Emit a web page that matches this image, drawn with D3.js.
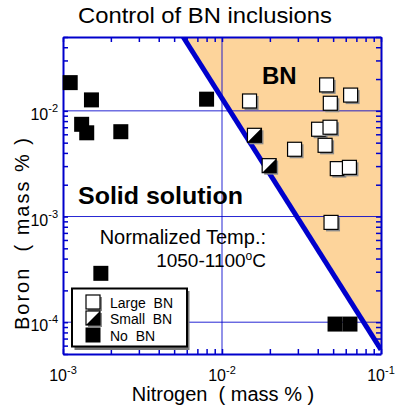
<!DOCTYPE html>
<html>
<head>
<meta charset="utf-8">
<script src="https://cdn.jsdelivr.net/npm/d3@7/dist/d3.min.js"></script>
<style>
  html, body { margin: 0; padding: 0; background: #fff; }
  svg { display: block; font-family: "Liberation Sans", Arial, Helvetica, sans-serif; }
  .pre { white-space: pre; }
</style>
</head>
<body>
<svg id="chart" width="399" height="406"></svg>
<script>
// Nitrogen (mass %) vs Boron (mass %) with the BN precipitation boundary
const noBN_N    = [0.00111, 0.00151, 0.00131, 0.00141, 0.00231, 0.0080, 0.00173, 0.0514, 0.0638];
const noBN_B    = [0.0185, 0.0127, 0.00746, 0.0062, 0.00635, 0.0129, 0.00029, 0.000096, 0.000096];
const largeBN_N = [0.0149, 0.0455, 0.0644, 0.048, 0.0405, 0.0478, 0.0286, 0.0445, 0.0531, 0.0633, 0.0485];
const largeBN_B = [0.0124, 0.0176, 0.0141, 0.0118, 0.0067, 0.0070, 0.00433, 0.00472, 0.00284, 0.00292, 0.00088];
const smallBN_N = [0.0160, 0.0198];
const smallBN_B = [0.00587, 0.00303];

// solubility boundary (two end points, N then B)
const boundaryN = [0.0057, 0.1];
const boundaryB = [0.05, 0.000055];

const xTicks = [0.001, 0.01, 0.1];
const xTickExp = ["-3", "-2", "-1"];
const yTicks = [0.01, 0.001, 0.0001];
const yTickExp = ["-2", "-3", "-4"];

const legendLabels = ["Large  BN", "Small  BN", "No  BN"];

const blue = "#0000cc";
const orange = "#fdd49b";

const L = 63, R = 381, T = 37, B = 354;
const svg = d3.select("#chart");

const x = d3.scaleLog().domain([1e-3, 1e-1]).range([L, R]);
const y = d3.scaleLog().domain([5e-5, 5e-2]).range([B, T]);

// minor tick values
const minorX = [], minorY = [];
[-3, -2].forEach(e => { for (let m = 1; m <= 9; m++) minorX.push(m * Math.pow(10, e)); });
minorX.push(0.1);
[-5, -4, -3, -2].forEach(e => { for (let m = 1; m <= 9; m++) { const v = m * Math.pow(10, e); if (v >= 5e-5 && v <= 5e-2) minorY.push(v); } });

svg.append("defs").append("clipPath").attr("id", "plotclip")
  .append("rect").attr("x", L).attr("y", T).attr("width", R - L).attr("height", B - T);

const plot = svg.append("g").attr("clip-path", "url(#plotclip)");

// BN region
plot.append("path")
  .attr("d", d3.line()([
    [x(boundaryN[0]), y(boundaryB[0])],
    [x(0.1), y(0.05)],
    [x(boundaryN[1]), y(boundaryB[1])]
  ]) + "Z")
  .attr("fill", orange);

// decade grid lines
plot.selectAll(".gx").data([0.01]).enter().append("line")
  .attr("x1", d => x(d)).attr("x2", d => x(d)).attr("y1", T).attr("y2", B)
  .attr("stroke", blue).attr("stroke-width", 1).attr("opacity", 0.85);
plot.selectAll(".gy").data(yTicks).enter().append("line")
  .attr("x1", L).attr("x2", R).attr("y1", d => y(d)).attr("y2", d => y(d))
  .attr("stroke", blue).attr("stroke-width", 1).attr("opacity", 0.85);

// boundary line
plot.append("line")
  .attr("x1", x(boundaryN[0])).attr("y1", y(boundaryB[0]))
  .attr("x2", x(boundaryN[1])).attr("y2", y(boundaryB[1]))
  .attr("stroke", blue).attr("stroke-width", 5);

// axes with inward minor ticks
function styleAxis(g) {
  g.selectAll("path.domain").attr("stroke", blue).attr("stroke-width", 2);
  g.selectAll(".tick line").attr("stroke", blue).attr("stroke-width", 1.5);
  g.selectAll(".tick text").remove();
}
svg.append("g").attr("transform", `translate(0,${B})`)
  .call(d3.axisBottom(x).tickValues(minorX).tickSize(-5).tickSizeOuter(0).tickFormat("")).call(styleAxis);
svg.append("g").attr("transform", `translate(0,${T})`)
  .call(d3.axisTop(x).tickValues(minorX).tickSize(-5).tickSizeOuter(0).tickFormat("")).call(styleAxis);
svg.append("g").attr("transform", `translate(${L},0)`)
  .call(d3.axisLeft(y).tickValues(minorY).tickSize(-5).tickSizeOuter(0).tickFormat("")).call(styleAxis);
svg.append("g").attr("transform", `translate(${R},0)`)
  .call(d3.axisRight(y).tickValues(minorY).tickSize(-5).tickSizeOuter(0).tickFormat("")).call(styleAxis);

// markers
const S = 15, SO = 14;
svg.selectAll(".nobn").data(noBN_N.map((n, i) => [n, noBN_B[i]])).enter().append("rect")
  .attr("x", d => x(d[0]) - S / 2).attr("y", d => y(d[1]) - S / 2)
  .attr("width", S).attr("height", S).attr("fill", "#000");

function openSquare(g, cx, cy) {
  g.append("rect").attr("x", cx - SO / 2 + 2).attr("y", cy - SO / 2 + 2)
    .attr("width", SO).attr("height", SO).attr("fill", "#8a8a8a");
  g.append("rect").attr("x", cx - SO / 2).attr("y", cy - SO / 2)
    .attr("width", SO).attr("height", SO).attr("fill", "#fff")
    .attr("stroke", "#000").attr("stroke-width", 1.2);
}
function halfSquare(g, cx, cy) {
  openSquare(g, cx, cy);
  const h = SO / 2;
  g.append("path")
    .attr("d", `M${cx + h},${cy - h}L${cx + h},${cy + h}L${cx - h},${cy + h}Z`)
    .attr("fill", "#000");
}
const mk = svg.append("g");
largeBN_N.forEach((n, i) => openSquare(mk, x(n), y(largeBN_B[i])));
smallBN_N.forEach((n, i) => halfSquare(mk, x(n), y(smallBN_B[i])));

// region labels
svg.append("text").attr("x", 262).attr("y", 84)
  .attr("font-size", 24).attr("font-weight", "bold").text("BN");
svg.append("text").attr("x", 78).attr("y", 204)
  .attr("font-size", 24).attr("font-weight", "bold")
  .attr("textLength", 165).attr("lengthAdjust", "spacingAndGlyphs").text("Solid solution");
svg.append("text").attr("x", 266).attr("y", 244).attr("text-anchor", "end")
  .attr("font-size", 20).text("Normalized Temp.:");
const tt = svg.append("text").attr("x", 266).attr("y", 267).attr("text-anchor", "end").attr("font-size", 19);
tt.append("tspan").text("1050-1100");
tt.append("tspan").attr("font-size", 12).attr("dy", -7).text("o");
tt.append("tspan").attr("dy", 7).text("C");

// legend
const lg = svg.append("g");
lg.append("rect").attr("x", 74.5).attr("y", 291).attr("width", 115).attr("height", 59).attr("fill", "#777");
lg.append("rect").attr("x", 72).attr("y", 288.5).attr("width", 115).attr("height", 58)
  .attr("fill", "#fff").attr("stroke", "#000").attr("stroke-width", 2);
const rowY = [302, 318, 335];
openSquare(lg, 93, rowY[0]);
halfSquare(lg, 93, rowY[1]);
lg.append("rect").attr("x", 93 - S / 2).attr("y", rowY[2] - S / 2).attr("width", S).attr("height", S).attr("fill", "#000");
legendLabels.forEach((t, i) => {
  lg.append("text").attr("class", "pre").attr("x", 110).attr("y", rowY[i] + 6)
    .attr("font-size", 14).text(t);
});

// tick labels
xTicks.forEach((v, i) => {
  const t = svg.append("text").attr("x", x(v)).attr("y", 381).attr("text-anchor", "middle").attr("font-size", 16);
  t.append("tspan").text("10");
  t.append("tspan").attr("font-size", 11).attr("dy", -7).text(xTickExp[i]);
});
yTicks.forEach((v, i) => {
  const t = svg.append("text").attr("x", 58).attr("y", y(v) + 9).attr("text-anchor", "end").attr("font-size", 16);
  t.append("tspan").text("10");
  t.append("tspan").attr("font-size", 11).attr("dy", -8).text(yTickExp[i]);
});

// titles
svg.append("text").attr("x", 205).attr("y", 23).attr("text-anchor", "middle")
  .attr("font-size", 22).attr("textLength", 254).attr("lengthAdjust", "spacingAndGlyphs")
  .text("Control of BN inclusions");
svg.append("text").attr("class", "pre").attr("x", 223).attr("y", 401).attr("text-anchor", "middle")
  .attr("font-size", 20).text("Nitrogen  ( mass % )");
svg.append("text").attr("class", "pre")
  .attr("transform", "translate(29,234) rotate(-90)").attr("text-anchor", "middle")
  .attr("font-size", 20).attr("textLength", 192).attr("lengthAdjust", "spacing")
  .text("Boron  ( mass % )");
</script>
</body>
</html>
